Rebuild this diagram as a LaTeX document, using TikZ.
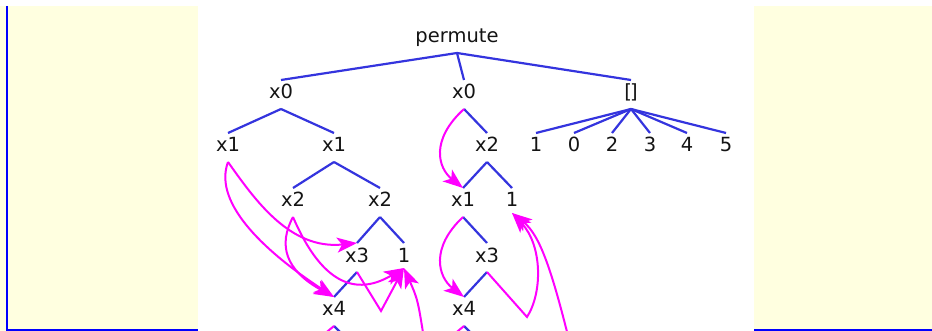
\documentclass[tikz,border=0pt]{standalone}
\usepackage{fontspec}
\setmainfont{DejaVu Sans}
\usetikzlibrary{calc,arrows.meta}

\definecolor{pageyellow}{RGB}{255,255,224}
\definecolor{treeblue}{RGB}{52,52,222}
\definecolor{linkpink}{RGB}{255,0,255}
\definecolor{labelgray}{RGB}{20,20,20}

\tikzset{
  lbl/.style={anchor=base,inner sep=0pt,text=labelgray,font=\fontsize{19.5}{19.5}\selectfont},
  edge/.style={treeblue,line width=2.2pt},
  link/.style={linkpink,line width=2pt,-{Stealth[length=20pt,width=15pt,inset=5pt]}},
  linkline/.style={linkpink,line width=2pt}
}

\begin{document}
\begin{tikzpicture}[x=1pt,y=-1pt]
\useasboundingbox (0,0) rectangle (932,331);

% page
\fill[white] (0,0) rectangle (932,331);
\fill[pageyellow] (0,6) rectangle (198,331);
\fill[pageyellow] (754,6) rectangle (932,331);
\draw[blue,line width=1.5pt] (7,6) -- (7,331);
\draw[blue,line width=1.5pt] (7,330.2) -- (198,330.2);
\draw[blue,line width=1.5pt] (754,330.2) -- (932,330.2);

\begin{scope}
\clip (198,0) rectangle (754,331);

% labels
\node[lbl] (perm) at (457,43) {permute};

\node[lbl] (a) at (281,99) {x0};
\node[lbl] (b) at (464,99) {x0};
\node[lbl] (c) at (631,99) {[\kern-2pt]};

\node[lbl] (a1) at (228,152) {x1};
\node[lbl] (a2) at (334,152) {x1};
\node[lbl] (b1) at (487,152) {x2};
\foreach \n/\t/\x in {c1/1/536,c2/0/574,c3/2/612,c4/3/650,c5/4/687,c6/5/726}
{
\node[lbl] (\n) at (\x,152) {\t};
}

\node[lbl] (a21) at (293,207) {x2};
\node[lbl] (a22) at (380,207) {x2};
\node[lbl] (b11) at (463,207) {x1};
\node[lbl] (b12) at (512,207) {1};

\node[lbl] (a221) at (357,262) {x3};
\node[lbl] (a222) at (404,262) {1};
\node[lbl] (b111) at (487,262) {x3};

\node[lbl] (a2211) at (334,316) {x4};
\node[lbl] (b1111) at (464,316) {x4};

% ends below and above each label
\foreach \n in {perm,a,b,c,a1,a2,b1,c1,c2,c3,c4,c5,c6,a21,a22,b11,b12,a221,a222,b111,a2211,b1111}
{
\coordinate (\n-dn) at ($(\n.base)+(0,10)$);
\coordinate (\n-up) at ($(\n.base)+(0,-19)$);
\coordinate (\n-bot) at ($(\n.base)+(0,6)$);
}

% ends out of the picture
\coordinate (a2211-kid) at (358,350);
\coordinate (a2211-away) at (312,375);
\coordinate (b1111-kid) at (488,350);
\coordinate (b1111-away) at (442,375);
\coordinate (low1) at (426,352);
\coordinate (low2) at (572,352);

% tree
\foreach \p/\c in {perm/a,perm/b,perm/c,a/a1,a/a2,b/b1,
c/c1,c/c2,c/c3,c/c4,c/c5,c/c6,
a2/a21,a2/a22,b1/b11,b1/b12,
a22/a221,a22/a222,b11/b111,
a221/a2211,b111/b1111}
{
\draw[edge] (\p-dn) -- (\c-up);
}
\draw[edge] (a2211-dn) -- (a2211-kid);
\draw[edge] (b1111-dn) -- (b1111-kid);

% shared parts
\draw[link] (a1-dn) .. controls (255,200) and (290,250) .. (a221-up);
\draw[link] (a1-dn) .. controls (212,205) and (270,255) .. (a2211-up);
\draw[link] (a21-dn) .. controls (278,245) and (285,270) .. (a2211-up);
\draw[link] (a21-dn) .. controls (318,275) and (350,300) .. (a222-bot);
\draw[link] (a221-dn) -- (381,311) -- (a222-bot);
\draw[link] (low1) .. controls (418,300) .. (a222-bot);

\draw[link] (b-dn) .. controls (430,140) and (438,168) .. (b11-up);
\draw[link] (b11-dn) .. controls (430,248) and (438,277) .. (b1111-up);
\draw[link] (b111-dn) -- (527,317) .. controls (543,292) and (542,245) .. (b12-bot);
\draw[link] (low2) .. controls (552,270) and (540,235) .. (b12-bot);

\draw[linkline] (a2211-dn) .. controls (305,350) .. (a2211-away);
\draw[linkline] (b1111-dn) .. controls (435,350) .. (b1111-away);

\end{scope}

\end{tikzpicture}
\end{document}
